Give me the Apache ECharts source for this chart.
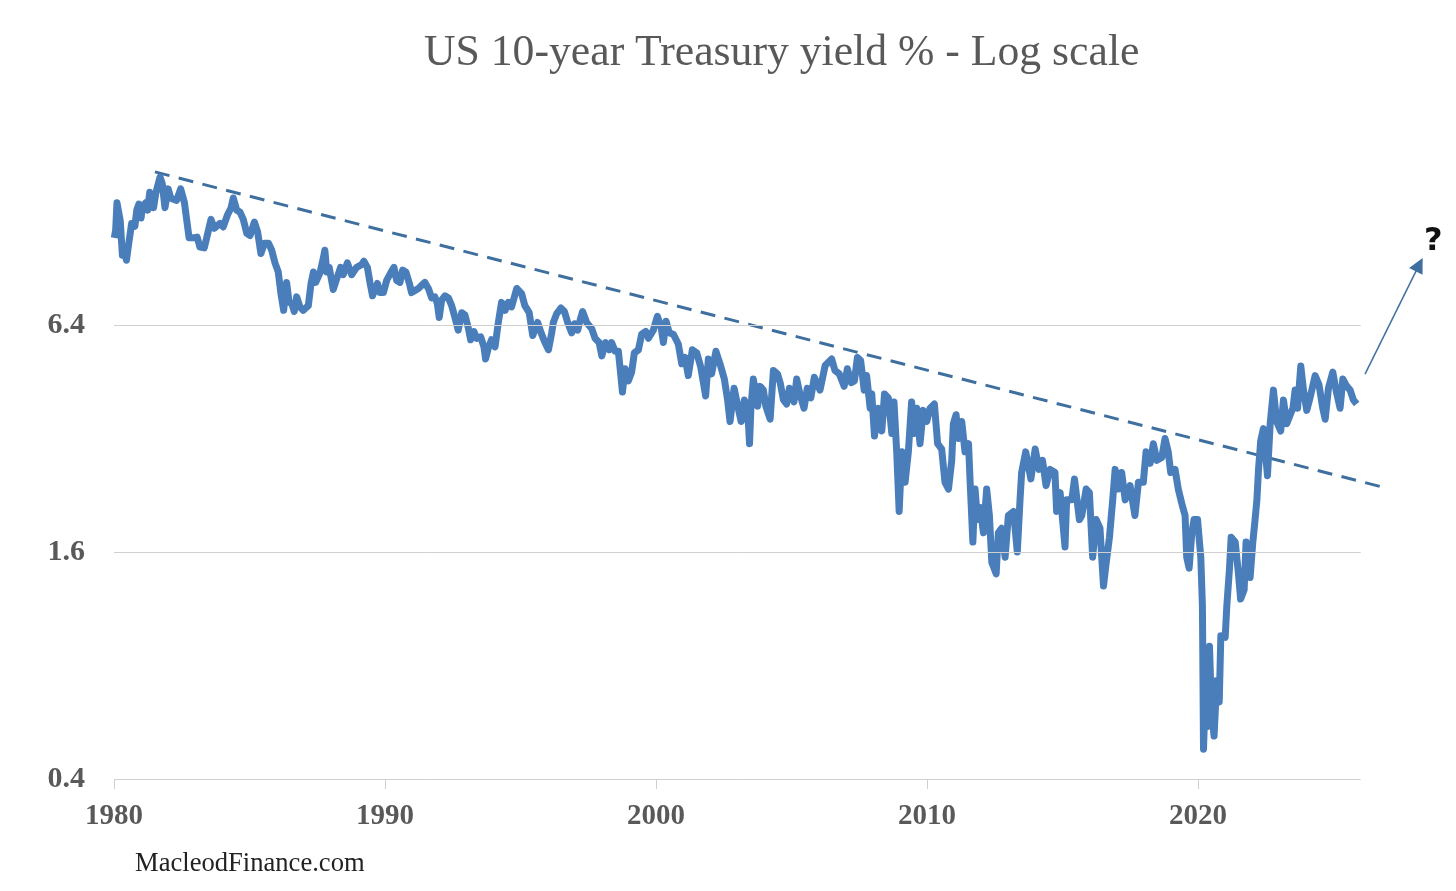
<!DOCTYPE html>
<html>
<head>
<meta charset="utf-8">
<title>US 10-year Treasury yield</title>
<script src="https://cdn.jsdelivr.net/npm/echarts@6/dist/echarts.min.js"></script>
<style>
html, body { margin: 0; padding: 0; background: #fff; }
#chart { width: 1456px; height: 891px; }
</style>
</head>
<body>
<div id="chart"></div>
<script>
// values, [decimal year, yield %] flattened into two lists
const years = [
	1980.01,1980.06,1980.11,1980.18,1980.23,1980.31,1980.38,1980.46,1980.55,1980.65,1980.77,1980.84,1980.92,1981.0,1981.05,1981.17,1981.24,1981.32,1981.46,1981.54,1981.7,1981.78,1981.88,
	1982.0,1982.09,1982.19,1982.31,1982.46,1982.6,1982.68,1982.77,1982.93,1983.07,1983.17,1983.33,1983.42,1983.58,1983.7,1983.91,1984.03,1984.19,1984.32,1984.4,1984.53,1984.65,1984.77,1984.9,
	1985.02,1985.18,1985.3,1985.42,1985.55,1985.7,1985.82,1985.94,1986.06,1986.16,1986.26,1986.37,1986.46,1986.56,1986.65,1986.74,1986.86,1986.98,1987.17,1987.27,1987.36,1987.44,1987.6,1987.72,1987.78,
	1987.85,1987.94,1988.09,1988.21,1988.36,1988.46,1988.61,1988.77,1988.95,1989.14,1989.22,1989.35,1989.45,1989.54,1989.72,1989.81,1989.94,
	1990.06,1990.21,1990.33,1990.43,1990.55,1990.65,1990.77,1990.9,1990.98,1991.11,1991.23,1991.35,1991.47,1991.6,1991.72,1991.84,1991.93,1992.0,1992.09,1992.21,1992.34,1992.46,1992.58,1992.7,1992.83,1992.95,
	1993.07,1993.16,1993.28,1993.38,1993.53,1993.65,1993.71,1993.81,1993.93,1994.06,1994.18,1994.3,1994.43,1994.55,1994.67,1994.86,1995.04,1995.16,1995.32,1995.45,1995.63,1995.76,1995.9,
	1996.03,1996.15,1996.21,1996.33,1996.49,1996.62,1996.74,1996.89,1996.99,1997.11,1997.2,1997.29,1997.44,1997.63,1997.75,1997.9,1998.0,1998.14,1998.27,1998.36,1998.49,1998.61,1998.67,1998.76,1998.86,1998.98,
	1999.1,1999.2,1999.35,1999.47,1999.62,1999.72,1999.9,2000.05,2000.19,2000.27,2000.37,2000.49,2000.64,2000.82,2000.95,2001.07,2001.19,2001.34,2001.5,2001.65,2001.83,2001.93,
	2002.05,2002.21,2002.36,2002.52,2002.64,2002.73,2002.88,2003.0,2003.14,2003.26,2003.41,2003.45,2003.5,2003.59,2003.75,2003.84,2003.96,2004.05,2004.21,2004.33,2004.48,2004.58,2004.7,2004.82,2004.92,
	2005.09,2005.19,2005.31,2005.46,2005.58,2005.71,2005.84,2006.05,2006.24,2006.48,2006.6,2006.76,2006.94,2007.06,2007.2,2007.32,2007.43,2007.55,2007.68,2007.77,2007.9,2007.96,
	2008.06,2008.2,2008.33,2008.43,2008.57,2008.7,2008.78,2008.88,2008.97,2009.07,2009.19,2009.31,2009.43,2009.53,2009.62,2009.74,2009.86,2009.99,2010.11,2010.27,2010.39,2010.54,2010.66,2010.79,2010.91,2010.97,
	2011.07,2011.16,2011.28,2011.4,2011.53,2011.59,2011.69,2011.77,2011.86,2011.96,2012.08,2012.2,2012.3,2012.39,2012.55,2012.63,2012.75,2012.88,2013.0,2013.19,2013.33,2013.43,2013.49,2013.64,2013.83,2013.99,
	2014.13,2014.26,2014.39,2014.54,2014.72,2014.78,2014.91,2015.09,2015.15,2015.34,2015.44,2015.62,2015.71,2015.87,2015.99,2016.11,2016.24,2016.38,2016.51,2016.61,2016.73,2016.85,2016.94,
	2017.06,2017.18,2017.31,2017.49,2017.67,2017.8,2017.98,2018.08,2018.23,2018.35,2018.48,2018.66,2018.78,2018.9,2018.99,2019.15,2019.27,2019.4,2019.52,2019.58,2019.67,2019.77,2019.85,2019.98,
	2020.1,2020.16,2020.2,2020.26,2020.32,2020.42,2020.5,2020.59,2020.69,2020.78,2020.84,2021.0,2021.06,2021.16,2021.22,2021.37,2021.49,2021.57,2021.7,2021.77,2021.92,2022.02,2022.1,2022.17,2022.23,2022.31,2022.41,2022.56,2022.66,2022.78,2022.9,
	2023.05,2023.15,2023.27,2023.4,2023.5,2023.58,2023.67,2023.79,2023.89,2024.01,2024.13,2024.32,2024.46,2024.6,2024.69,2024.81,2024.97,2025.09,2025.24,2025.34,2025.49,2025.61,2025.73,2025.85
];
const yields = [
	10.9,11.4,13.5,13.4,12.1,9.8,10.1,9.5,10.6,11.9,11.7,12.9,13.4,12.3,13.2,13.5,12.9,14.4,13.1,14.3,15.8,15.2,13.1,
	14.7,13.9,13.8,13.7,14.7,13.5,12.2,10.9,10.9,10.95,10.3,10.25,10.9,12.2,11.55,11.9,11.65,12.55,13.1,13.9,12.9,12.75,12.2,11.2,
	11.05,12.0,11.3,9.9,10.55,10.55,10.1,9.35,8.85,7.75,7.0,8.3,7.35,7.3,6.95,7.6,7.15,7.0,7.2,8.25,8.85,8.3,8.8,9.6,10.1,
	8.85,9.1,7.95,8.45,9.1,8.7,9.35,8.7,9.1,9.25,9.45,9.1,8.25,7.65,8.25,7.8,7.8,
	8.4,8.8,9.1,8.4,8.3,8.95,8.85,8.25,7.8,7.9,8.0,8.15,8.3,8.0,7.55,7.6,7.3,6.7,7.45,7.65,7.55,7.2,6.7,6.2,6.9,6.8,
	6.3,5.85,6.15,5.9,5.95,5.6,5.2,5.55,5.85,5.6,6.5,7.35,7.0,7.35,7.15,8.0,7.75,7.2,6.9,6.0,6.5,6.1,5.75,
	5.5,6.1,6.5,6.85,7.1,6.95,6.5,6.1,6.45,6.2,6.6,6.95,6.5,6.25,5.9,5.75,5.3,5.75,5.5,5.75,5.45,5.45,4.95,4.25,4.9,4.55,
	4.8,5.4,5.5,6.05,6.15,5.9,6.2,6.75,6.3,5.75,6.55,6.1,6.05,5.7,5.05,5.25,4.7,5.5,5.4,4.95,4.15,5.2,
	4.75,5.45,5.05,4.6,4.05,3.55,4.35,3.95,3.55,4.05,3.5,3.1,3.85,4.6,3.9,4.4,4.3,3.9,3.6,4.85,4.75,4.5,4.05,3.95,4.35,
	4.0,4.6,4.2,3.85,4.35,4.1,4.65,4.3,5.0,5.2,4.85,4.75,4.4,4.9,4.5,4.55,5.25,5.15,4.3,4.7,3.85,4.2,
	3.25,3.85,3.35,4.2,4.1,3.3,4.0,2.95,2.05,2.95,2.45,2.95,4.0,3.3,3.85,3.1,3.8,3.55,3.85,3.95,3.1,3.0,2.45,2.35,2.8,3.5,
	3.7,3.2,3.55,2.95,3.1,2.45,1.7,2.35,1.95,2.1,1.8,2.35,2.0,1.5,1.4,1.8,1.85,1.55,2.0,2.05,1.6,2.2,2.6,2.95,2.5,3.0,
	2.65,2.8,2.4,2.65,2.6,2.05,2.3,1.65,2.2,2.2,2.5,1.95,2.0,2.35,2.3,1.55,1.95,1.85,1.3,1.5,1.75,2.2,2.65,
	2.35,2.6,2.2,2.4,2.0,2.45,2.45,2.95,2.75,3.1,2.8,2.85,3.2,2.95,2.6,2.65,2.35,2.15,2.0,1.55,1.45,1.8,1.95,1.95,
	1.55,1.15,0.48,0.65,0.55,0.9,0.6,0.52,0.73,0.64,0.96,0.95,1.15,1.45,1.75,1.7,1.4,1.2,1.27,1.7,1.37,1.7,1.94,2.2,2.65,3.15,3.4,2.55,3.5,4.3,3.55,
	3.35,4.05,3.5,3.7,3.85,4.3,3.85,4.98,4.3,3.8,4.1,4.7,4.45,3.85,3.6,4.35,4.8,4.3,3.85,4.6,4.4,4.3,4.05,3.95
];
const xTickLabels = [1980, 1990, 2000, 2010, 2020];
const yTickLabels = [0.4, 1.6, 6.4];
const gridLevels = [0.4, 1.6, 6.4];
const gridYears = [1980, 2026];
const trendYears = [1981.51, 2026.79];
const trendYields = [16.3, 2.38];
const arrowYears = [2026.16, 2028.16];
const arrowYields = [4.74, 9.25];

const BLUE = "#4a7ebb";
const DASH_BLUE = "#3f6f9f";
const GREY = "#595959";
const FONT = "'Liberation Serif', serif";

const zip = (a, b) => a.map((v, i) => [v, b[i]]);

const myChart = echarts.init(document.getElementById("chart"), null, {renderer: "canvas"});

const option = {
	animation: false,
	backgroundColor: "#fff",
	title: [
		{
			text: "US 10-year Treasury yield % - Log scale",
			left: 424,
			top: 32,
			padding: 0,
			textStyle: {fontFamily: FONT, fontSize: 43.7, fontWeight: "normal", color: GREY},
		},
		{
			text: "MacleodFinance.com",
			left: 135,
			top: 851,
			padding: 0,
			textStyle: {fontFamily: FONT, fontSize: 26.6, fontWeight: "normal", color: "#222"},
		},
		{
			text: "?",
			left: 1424,
			top: 226,
			padding: 0,
			textStyle: {fontFamily: "'DejaVu Sans', sans-serif", fontSize: 32, fontWeight: "bold", color: "#111"},
		},
	],
	// the plot runs on past 2026 so the trend line and the arrow are not clipped
	grid: {left: 114, right: 14, top: 98, bottom: 112},
	xAxis: {
		type: "value",
		min: 1980,
		max: 2029,
		interval: 10,
		splitLine: {show: false},
		axisLine: {show: false},
		axisTick: {length: 10, lineStyle: {color: "#d0d0d0"}, customValues: xTickLabels},
		axisLabel: {
			customValues: xTickLabels,
			formatter: (v) => String(v),
			margin: 23,
			fontFamily: FONT,
			fontSize: 29,
			fontWeight: "bold",
			color: GREY,
		},
	},
	yAxis: {
		type: "log",
		logBase: 4,
		min: 0.4,
		max: 25.6,
		splitLine: {show: false},
		axisLine: {show: false},
		axisTick: {show: false},
		axisLabel: {
			customValues: yTickLabels,
			formatter: (v) => String(Math.round(v * 10) / 10),
			margin: 29,
			padding: [3, 0, 0, 0],
			fontFamily: FONT,
			fontSize: 30,
			fontWeight: "bold",
			color: GREY,
		},
	},
	series: [
		{
			name: "trend",
			type: "line",
			silent: true,
			z: 3,
			data: zip(trendYears, trendYields),
			showSymbol: false,
			lineStyle: {color: DASH_BLUE, width: 3, type: [15, 9.5]},
			markLine: {
				silent: true,
				symbol: "none",
				label: {show: false},
				lineStyle: {color: "#d0d0d0", width: 1, type: "solid"},
				data: gridLevels.map((v) => [{coord: [gridYears[0], v]}, {coord: [gridYears[1], v]}]),
			},
		},
		{
			name: "US 10-year yield",
			type: "line",
			z: 4,
			data: zip(years, yields),
			showSymbol: false,
			lineStyle: {color: BLUE, width: 7, join: "round"},
		},
		{
			name: "arrow",
			type: "line",
			silent: true,
			z: 3,
			data: [
				{value: [arrowYears[0], arrowYields[0]], symbol: "none"},
				{value: [arrowYears[1], arrowYields[1]], symbol: "triangle", symbolSize: 15, symbolRotate: -27},
			],
			showSymbol: true,
			showAllSymbol: true,
			itemStyle: {color: DASH_BLUE},
			lineStyle: {color: DASH_BLUE, width: 1.5},
		},
	],
};
option && myChart.setOption(option);
</script>
</body>
</html>
